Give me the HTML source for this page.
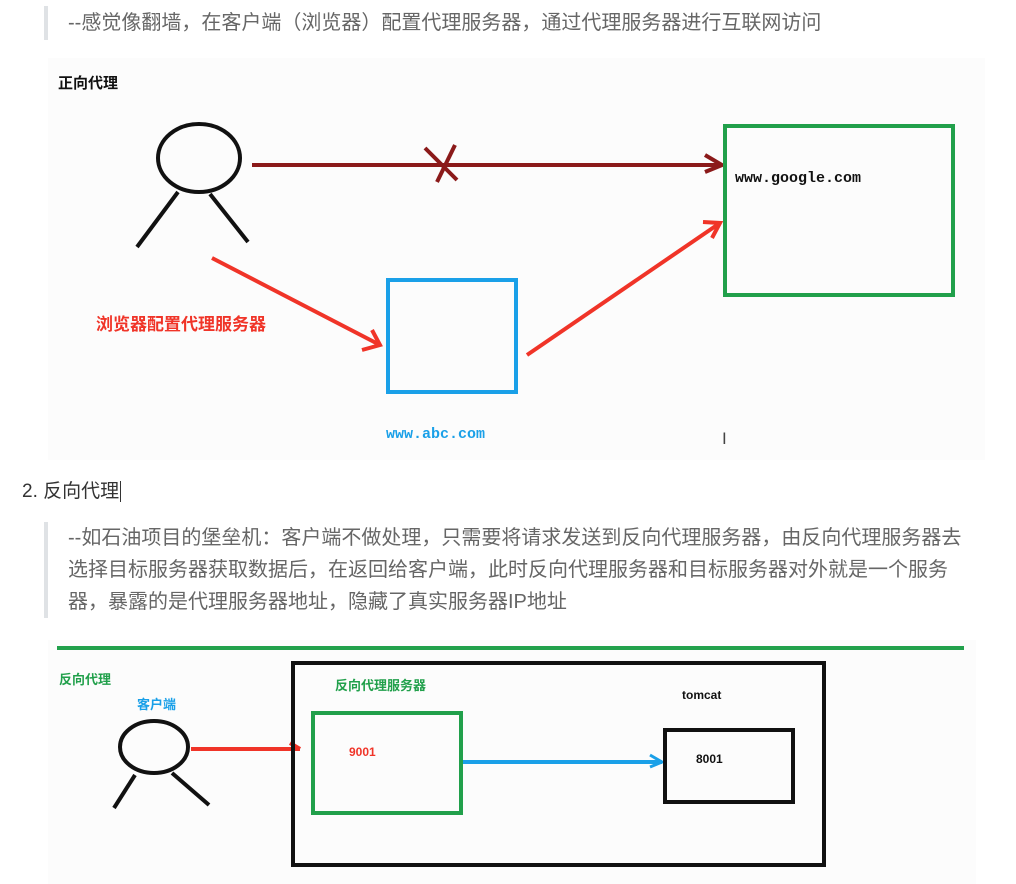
<!DOCTYPE html>
<html><head><meta charset="utf-8"><style>
body{margin:0;width:1016px;height:884px;background:#fff;overflow:hidden;position:relative;font-family:"Liberation Sans","Noto Sans CJK SC",sans-serif}
.q{position:absolute;left:44px;border-left:4px solid #dfe2e5;padding-left:20px;color:#666;font-size:20px;white-space:nowrap}
</style></head><body>
<div class="q" style="top:6px;height:34px;line-height:34px;">--感觉像翻墙，在客户端（浏览器）配置代理服务器，通过代理服务器进行互联网访问</div>
<div style="position:absolute;left:22px;top:476px;font-size:19px;color:#333">2. 反向代理<span style="border-left:1px solid #333;margin-left:1px"></span></div>
<div class="q" style="top:522px;line-height:32px;">--如石油项目的堡垒机：客户端不做处理，只需要将请求发送到反向代理服务器，由反向代理服务器去<br>选择目标服务器获取数据后，在返回给客户端，此时反向代理服务器和目标服务器对外就是一个服务<br>器，暴露的是代理服务器地址，隐藏了真实服务器IP地址</div>
<svg width="1016" height="884" style="position:absolute;left:0;top:0" font-family="Liberation Sans,Noto Sans CJK SC,sans-serif">
<rect x="48" y="58" width="937" height="402" fill="#fcfcfc"/>
<text x="58" y="88" font-size="15" font-weight="bold" fill="#111">正向代理</text>
<g stroke="#111" stroke-width="4" fill="none">
<ellipse cx="199" cy="158" rx="41" ry="34"/>
<line x1="178" y1="192" x2="137" y2="247"/><line x1="210" y1="194" x2="248" y2="242"/>
</g>
<g stroke="#8b1a1a" stroke-width="4" fill="none">
<line x1="252" y1="165" x2="722" y2="165"/><polyline points="705,155 722,165 705,172"/>
<line x1="425" y1="148" x2="457" y2="180"/><line x1="455" y1="145" x2="437" y2="182"/>
</g>
<rect x="725" y="126" width="228" height="169" fill="none" stroke="#21a04b" stroke-width="4"/>
<text x="735" y="182" font-size="15" font-weight="bold" font-family="Liberation Mono,monospace" fill="#111">www.google.com</text>
<g stroke="#f03428" stroke-width="4" fill="none">
<line x1="212" y1="258" x2="380" y2="345"/><polyline points="362,350 380,345 372,330"/>
<line x1="527" y1="355" x2="720" y2="223"/><polyline points="703,222 720,223 712,238"/>
</g>
<rect x="388" y="280" width="128" height="112" fill="none" stroke="#1aa0e8" stroke-width="4"/>
<text x="386" y="438" font-size="15" font-weight="bold" font-family="Liberation Mono,monospace" fill="#1aa0e8">www.abc.com</text>
<text x="96" y="330" font-size="17" font-weight="bold" fill="#f03428">浏览器配置代理服务器</text>
<text x="722" y="444" font-size="17" fill="#444">I</text>

<rect x="48" y="640" width="928" height="244" fill="#fcfcfc"/>
<line x1="57" y1="648" x2="964" y2="648" stroke="#21a04b" stroke-width="4"/>
<text x="59" y="684" font-size="13" font-weight="bold" fill="#21a04b">反向代理</text>
<text x="137" y="709" font-size="13" font-weight="bold" fill="#1aa0e8">客户端</text>
<g stroke="#111" stroke-width="4" fill="none">
<ellipse cx="154" cy="747" rx="34" ry="26"/>
<line x1="135" y1="775" x2="114" y2="808"/><line x1="172" y1="773" x2="209" y2="805"/>
</g>
<line x1="191" y1="749" x2="300" y2="749" stroke="#f03428" stroke-width="4"/>
<line x1="290" y1="743" x2="300" y2="749" stroke="#f03428" stroke-width="4"/>
<rect x="293" y="663" width="531" height="202" fill="none" stroke="#111" stroke-width="4"/>
<text x="335" y="690" font-size="13" font-weight="bold" fill="#21a04b">反向代理服务器</text>
<rect x="313" y="713" width="148" height="100" fill="none" stroke="#21a04b" stroke-width="4"/>
<text x="349" y="756" font-size="12" font-weight="bold" fill="#f03428">9001</text>
<line x1="463" y1="762" x2="662" y2="762" stroke="#1aa0e8" stroke-width="4"/>
<polyline points="650,755 662,762 650,767" stroke="#1aa0e8" stroke-width="3" fill="none"/>
<text x="682" y="699" font-size="12" font-weight="bold" fill="#111">tomcat</text>
<rect x="665" y="730" width="128" height="72" fill="none" stroke="#111" stroke-width="4"/>
<text x="696" y="763" font-size="12" font-weight="bold" fill="#111">8001</text>
</svg>
</body></html>
